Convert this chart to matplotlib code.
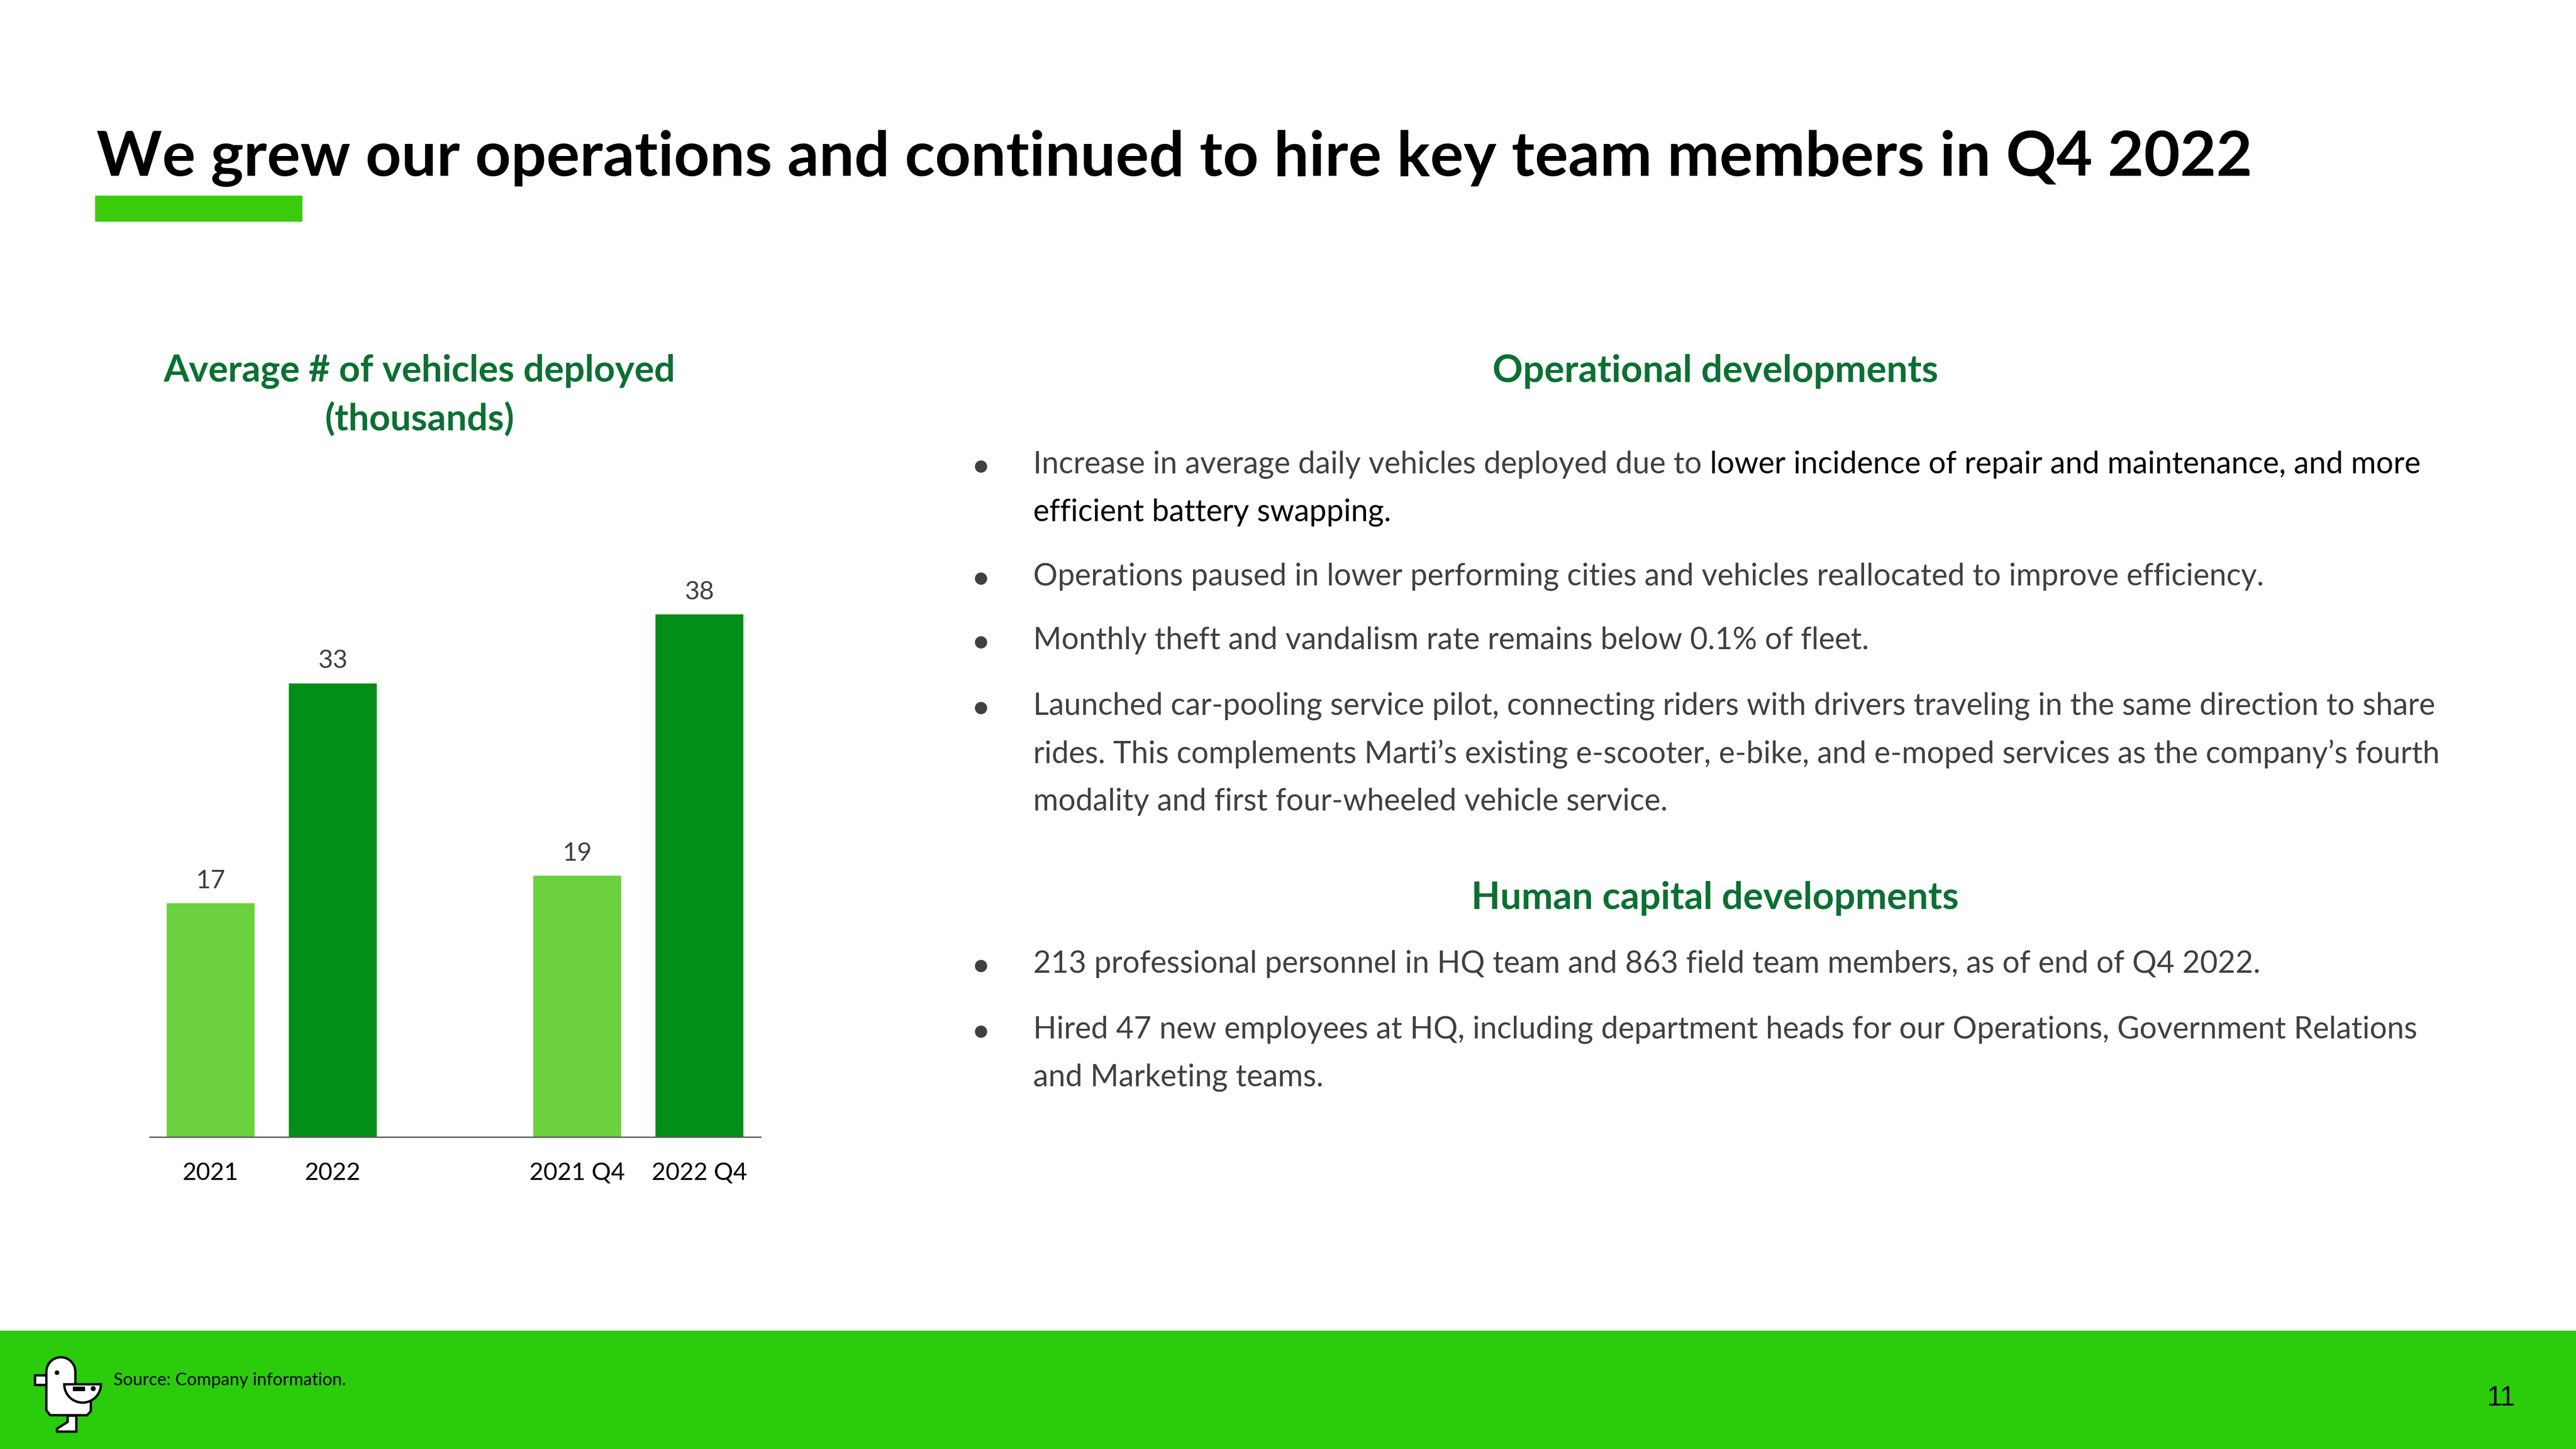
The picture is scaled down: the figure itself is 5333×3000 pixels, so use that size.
import matplotlib
matplotlib.use("Agg")
import matplotlib.pyplot as plt
import numpy as np
from matplotlib.patches import Rectangle, Circle, Polygon, Wedge

# data
categorias = ["2021", "2022", "2021 Q4", "2022 Q4"]
veiculos = [17, 33, 19, 38]
tipo_barra = ["ano", "ano2", "ano", "ano2"]

titulo = "We grew our operations and continued to hire key team members in Q4 2022"
titulo_grafico = ["Average # of vehicles deployed", "(thousands)"]
titulo_oper = "Operational developments"
titulo_humano = "Human capital developments"
fonte = "Source: Company information."
pagina = "11"

W, H = 5333, 3000
VERDE_CLARO = "#6BD13F"
VERDE_ESCURO = "#038E17"
VERDE_TITULO = "#0B7032"
VERDE_RODAPE = "#2ACC0C"
VERDE_BARRA = "#3ACC0A"
CINZA = "#404040"
FONTE = ["Lato", "DejaVu Sans"]

plt.rcParams["font.family"] = FONTE

fig = plt.figure(figsize=(W / 100, H / 100), dpi=100)
fundo = fig.add_axes([0, 0, 1, 1])
fundo.set_xlim(0, W)
fundo.set_ylim(H, 0)
fundo.axis("off")
fundo.set_zorder(0)

# title + underline
fundo.text(200, 364, titulo, fontsize=93, fontweight="bold", color="black", va="baseline", ha="left")
fundo.add_patch(Rectangle((197, 405), 429, 54, color=VERDE_BARRA, lw=0))

# footer
fundo.add_patch(Rectangle((0, 2755), W, 245, color=VERDE_RODAPE, lw=0))
fundo.text(235, 2857, fonte, fontsize=26, color="black", va="center", ha="left")
fundo.text(5178, 2895, pagina, fontsize=41, color="black", va="center", ha="center",
           family=["Liberation Sans", "DejaVu Sans"])

# duck logo
lw_logo = 3.5
fundo.add_patch(Rectangle((72, 2847), 30, 20, facecolor="white", edgecolor="black", lw=lw_logo, zorder=2))
ang = np.linspace(np.pi, 0, 30)
topo = np.column_stack([126 + 30 * np.cos(ang), 2840 - 30 * np.sin(ang)])
corpo = np.vstack([[[96, 2920]], topo, [[156, 2890], [188, 2890], [188, 2922], [180, 2930], [104, 2930]]])
fundo.add_patch(Polygon(corpo, closed=True, facecolor="white", edgecolor="black", lw=lw_logo, zorder=3))
fundo.add_patch(Circle((118, 2842), 4, color="black", zorder=4))
fundo.add_patch(Wedge((171, 2866), 38, 0, 180, facecolor="white", edgecolor="black", lw=lw_logo, zorder=4))
fundo.add_patch(Rectangle((151, 2871), 24, 8, color="black", zorder=5))
fundo.add_patch(Circle((193, 2875), 4.5, color="black", zorder=5))
perna = [(140, 2931), (158, 2931), (158, 2964), (118, 2964), (118, 2958), (140, 2944)]
fundo.add_patch(Polygon(perna, closed=True, facecolor="white", edgecolor="black", lw=lw_logo, zorder=2))

# chart title
fundo.text(868, 769, titulo_grafico[0], fontsize=55, fontweight="bold", color=VERDE_TITULO, ha="center", va="center")
fundo.text(868, 868, titulo_grafico[1], fontsize=55, fontweight="bold", color=VERDE_TITULO, ha="center", va="center")

# right side text
fundo.text(3551, 769, titulo_oper, fontsize=56, fontweight="bold", color=VERDE_TITULO, ha="center", va="center")
fundo.text(3551, 1860, titulo_humano, fontsize=56, fontweight="bold", color=VERDE_TITULO, ha="center", va="center")

tam = 45.5
xt = 2139
linhas = [
    (1061, "efficient battery swapping.", "black"),
    (1194, "Operations paused in lower performing cities and vehicles reallocated to improve efficiency.", CINZA),
    (1326, "Monthly theft and vandalism rate remains below 0.1% of fleet.", CINZA),
    (1462, "Launched car-pooling service pilot, connecting riders with drivers traveling in the same direction to share", CINZA),
    (1561, "rides. This complements Marti\u2019s existing e-scooter, e-bike, and e-moped services as the company\u2019s fourth", CINZA),
    (1660, "modality and first four-wheeled vehicle service.", CINZA),
    (1996, "213 professional personnel in HQ team and 863 field team members, as of end of Q4 2022.", CINZA),
    (2132, "Hired 47 new employees at HQ, including department heads for our Operations, Government Relations", CINZA),
    (2231, "and Marketing teams.", CINZA),
]
t1 = fundo.text(xt, 962, "Increase in average daily vehicles deployed due to ", fontsize=tam, color=CINZA,
                ha="left", va="center")
fundo.annotate("lower incidence of repair and maintenance, and more", xy=(1, 0), xycoords=t1,
               fontsize=tam, color="black", ha="left", va="bottom")
for y, txt, cor in linhas:
    fundo.text(xt, y, txt, fontsize=tam, color=cor, ha="left", va="center")

for y in [962, 1194, 1326, 1462, 1996, 2132]:
    fundo.add_patch(Circle((2031, y + 4), 12, color=CINZA))

# bar chart
ax = fig.add_axes([309.5 / W, 1 - 2353.5 / H, (1574.7 - 309.5) / W, 1138 / H])
ax.set_zorder(1)
ax.patch.set_alpha(0)
x = np.array([0, 1, 3, 4])
cores = [VERDE_CLARO if t == "ano" else VERDE_ESCURO for t in tipo_barra]
barras = ax.bar(x, veiculos, width=0.72, color=cores)
for b, v in zip(barras, veiculos):
    ax.annotate(str(v), xy=(b.get_x() + b.get_width() / 2, v), xytext=(0, 33), textcoords="offset points",
                ha="center", va="center", fontsize=38, color=CINZA)
ax.set_xlim(-0.5, 4.5)
ax.set_ylim(0, 40)
ax.set_xticks(x)
ax.set_xticklabels(categorias, fontsize=36, color="black")
ax.tick_params(axis="x", length=0, pad=38)
ax.set_yticks([])
for lado in ["top", "right", "left"]:
    ax.spines[lado].set_visible(False)
ax.spines["bottom"].set_color("#595959")
ax.spines["bottom"].set_linewidth(2)

fig.savefig("out.png", dpi=100)
